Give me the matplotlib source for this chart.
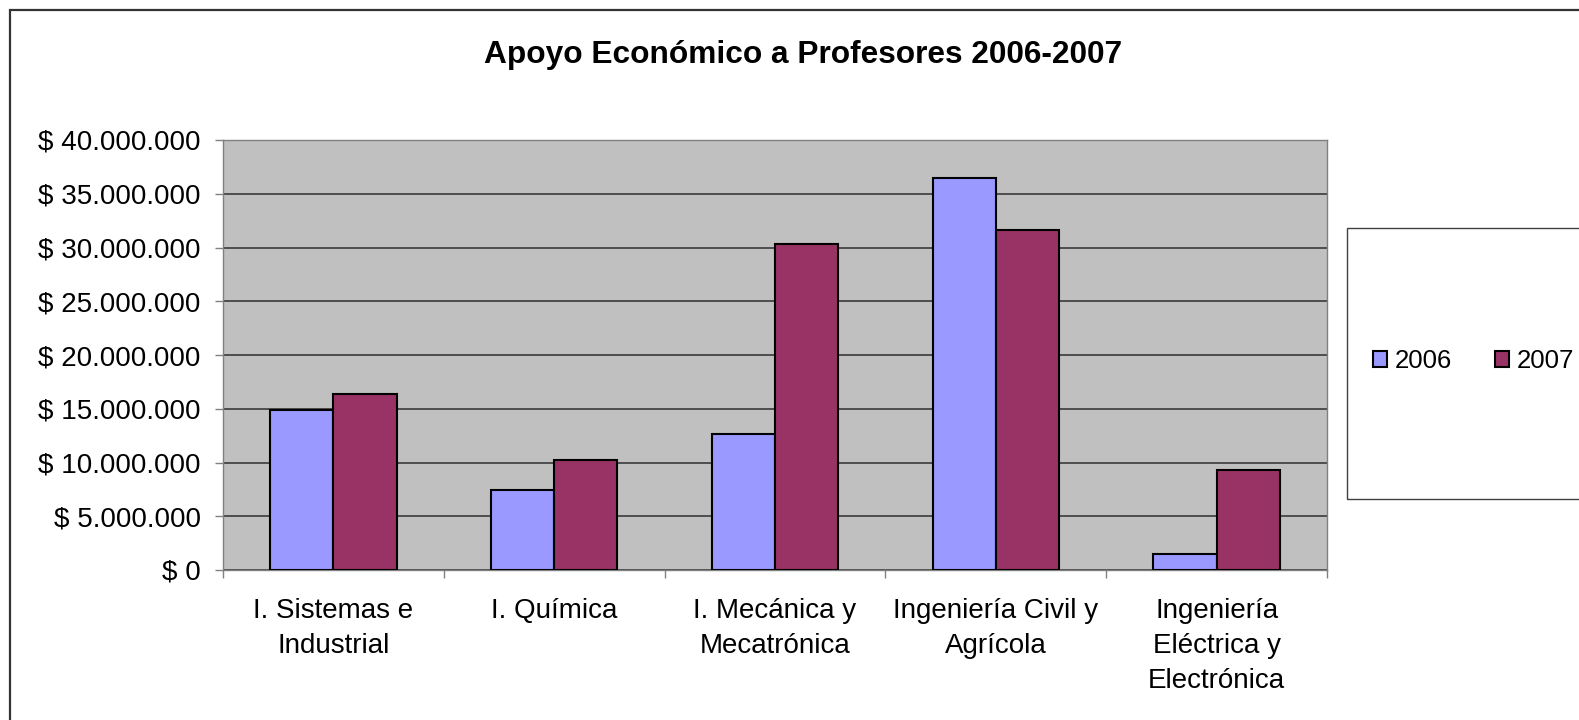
import matplotlib
matplotlib.use("Agg")
import matplotlib.pyplot as plt
import matplotlib.patches as mpatches
import numpy as np

plt.rcParams['font.family'] = ['Liberation Sans', 'DejaVu Sans']

categories = ['I. Sistemas e\nIndustrial', 'I. Química', 'I. Mecánica y\nMecatrónica',
              'Ingeniería Civil y\nAgrícola', 'Ingeniería\nEléctrica y\nElectrónica']
values_2006 = [14900000, 7400000, 12650000, 36500000, 1500000]
values_2007 = [16400000, 10200000, 30300000, 31600000, 9300000]
series_labels = ['2006', '2007']
yticks = [0, 5000000, 10000000, 15000000, 20000000, 25000000, 30000000, 35000000, 40000000]


def peso(v):
    if v == 0:
        return '$ 0'
    return '$ ' + f'{int(v):,}'.replace(',', '.')


fig = plt.figure(figsize=(15.79, 7.2), dpi=100)
ax = fig.add_axes([223 / 1579, 1 - 570 / 720, (1327 - 223) / 1579, (570 - 140) / 720])
ax.set_facecolor('#C0C0C0')

x = np.arange(len(categories))
w = 0.286
b1 = ax.bar(x - w / 2, values_2006, w, color='#9999FF', edgecolor='black', linewidth=1.5,
            label=series_labels[0], zorder=3)
b2 = ax.bar(x + w / 2, values_2007, w, color='#993366', edgecolor='black', linewidth=1.5,
            label=series_labels[1], zorder=3)

ax.set_xlim(-0.5, len(categories) - 0.5)
ax.set_ylim(0, 40000000)
ax.set_yticks(yticks)
ax.set_yticklabels([peso(v) for v in yticks], fontsize=20)
ax.yaxis.grid(True, color='#444444', linewidth=1.3, zorder=1)
ax.set_axisbelow(True)

# category boundaries as major ticks, labels on minor ticks
ax.set_xticks(np.arange(-0.5, len(categories), 1.0))
ax.set_xticklabels([])
ax.set_xticks(x, minor=True)
ax.set_xticklabels(categories, minor=True, fontsize=20, linespacing=1.45)
ax.tick_params(axis='x', which='minor', length=0, pad=20)
ax.tick_params(axis='x', which='major', length=6, color='#808080', width=1)
ax.tick_params(axis='y', length=6, color='#808080', width=1, pad=10)

for s in ax.spines.values():
    s.set_color('#808080')
    s.set_linewidth(1)

fig.text(803 / 1579, 1 - 63 / 720, 'Apoyo Económico a Profesores 2006-2007',
         fontsize=22.8, fontweight='bold', ha='center', va='baseline')

# legend box
fig.patches.append(mpatches.Rectangle((1347 / 1579, 1 - 499 / 720), 0.5, (499 - 228) / 720,
                                      transform=fig.transFigure, fill=False,
                                      edgecolor='#404040', linewidth=1))
fig.legend(handles=[b1, b2], labels=series_labels, loc='center left',
           bbox_to_anchor=(1373 / 1579, 1 - 361 / 720), ncol=2, frameon=False,
           fontsize=18.5, handlelength=0.55, handleheight=0.55, handletextpad=0.28,
           columnspacing=1.7, borderaxespad=0, borderpad=0)

# outer chart border
fig.patches.append(mpatches.Rectangle((10 / 1579, -0.5), 1.5, 1.5 - 10 / 720,
                                      transform=fig.transFigure, fill=False,
                                      edgecolor='#333333', linewidth=1.6))

fig.savefig('out.png', dpi=100)
